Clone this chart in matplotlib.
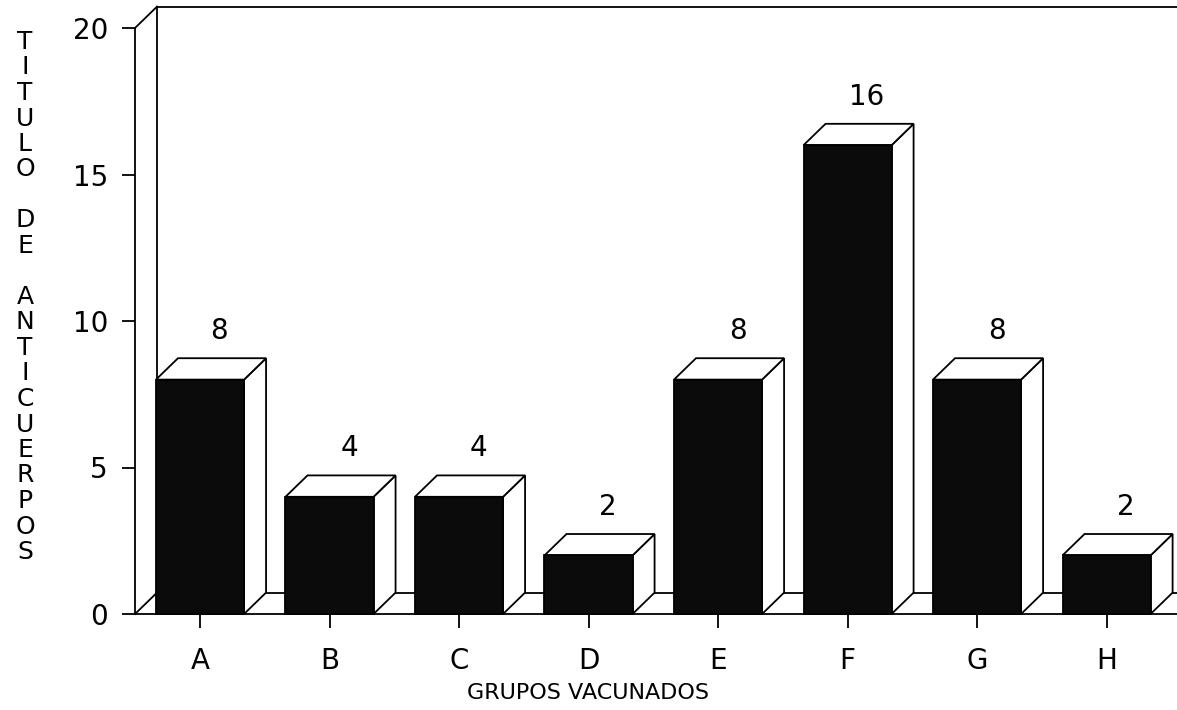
import matplotlib
matplotlib.use('Agg')
import matplotlib.pyplot as plt
from matplotlib.patches import Polygon

## data
grupos = ['A', 'B', 'C', 'D', 'E', 'F', 'G', 'H']
titulo = [8, 4, 4, 2, 8, 16, 8, 2]
yticks = [0, 5, 10, 15, 20]
ylabel = 'TITULO DE ANTICUERPOS'
xlabel = 'GRUPOS VACUNADOS'

W, H = 1177, 710
plt.rcParams['font.family'] = ['DejaVu Sans']

fig = plt.figure(figsize=(W / 100, H / 100), dpi=100)
ax = fig.add_axes([135 / W, (H - 614) / H, (1177 - 135) / W, (614 - 28) / H])
ax.set_xlim(-0.502, 7.544)
ax.set_ylim(0, 20)

# 3d depth offsets, in data units
dx, dy = 0.17, 0.73
hw = 0.34
lw = 1.3
x0, x1 = ax.get_xlim()

for s in ['top', 'right']:
    ax.spines[s].set_visible(False)
for s in ['left', 'bottom']:
    ax.spines[s].set_linewidth(lw)

# back wall and floor
ax.plot([x0 + dx, x0 + dx], [dy, 20 + dy], color='k', lw=lw, clip_on=False, zorder=1)
ax.plot([x0, x0 + dx], [20, 20 + dy], color='k', lw=lw, clip_on=False, zorder=1)
ax.plot([x0, x0 + dx], [0, dy], color='k', lw=lw, clip_on=False, zorder=1)
ax.plot([x0 + dx, x1 + 0.2], [20 + dy, 20 + dy], color='k', lw=lw, clip_on=False, zorder=1)
ax.plot([x0 + dx, x1 + 0.2], [dy, dy], color='k', lw=lw, clip_on=False, zorder=1)

# bars
for i, v in enumerate(titulo):
    front = [(i - hw, 0), (i + hw, 0), (i + hw, v), (i - hw, v)]
    top = [(i - hw, v), (i + hw, v), (i + hw + dx, v + dy), (i - hw + dx, v + dy)]
    side = [(i + hw, 0), (i + hw + dx, dy), (i + hw + dx, v + dy), (i + hw, v)]
    ax.add_patch(Polygon(side, closed=True, facecolor='white', edgecolor='k', lw=lw, zorder=3, clip_on=False))
    ax.add_patch(Polygon(top, closed=True, facecolor='white', edgecolor='k', lw=lw, zorder=3, clip_on=False))
    ax.add_patch(Polygon(front, closed=True, facecolor='#0b0b0b', edgecolor='k', lw=lw, zorder=4, clip_on=False))
    ax.text(i + 0.15, v + dy + 0.45, str(v), ha='center', va='bottom', fontsize=20, zorder=5)

ax.set_yticks(yticks)
ax.set_yticklabels([str(t) for t in yticks], fontsize=20)
ax.set_xticks(range(len(grupos)))
ax.set_xticklabels(grupos, fontsize=20)
ax.tick_params(axis='y', direction='out', length=9.5, width=lw, pad=10)
ax.tick_params(axis='x', direction='out', length=10, width=lw, pad=14)

# vertical stacked y label
for k, ch in enumerate(ylabel):
    fig.text(25 / W, 1 - (42 + 25.5 * k) / H, ch, ha='center', va='center', fontsize=18)

fig.text(588 / W, 1 - 693 / H, xlabel, ha='center', va='center', fontsize=16)

fig.savefig('out.png', dpi=100)
